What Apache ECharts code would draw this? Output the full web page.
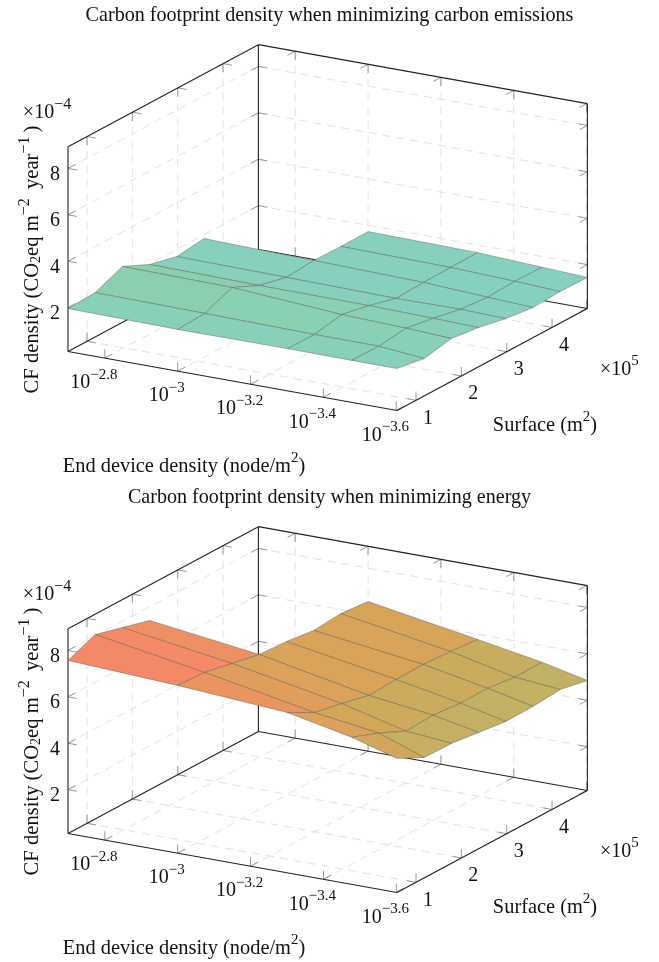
<!DOCTYPE html>
<html>
<head>
<meta charset="utf-8">
<style>
  html, body { margin: 0; padding: 0; background: #fff; }
  #main { width: 659px; height: 962px; }
</style>
<script src="https://cdn.jsdelivr.net/npm/echarts@6/dist/echarts.min.js"></script>
</head>
<body>
<div id="main"></div>
<script>
// data, z in units of 1e-4, null where the surface has no point
var densities = [0.002, 0.001, 0.0005, 0.000333, 0.00025];
var surfaces = [0.58, 1.18, 1.78, 2.38, 2.98, 3.58, 4.18, 4.78];
var carbonZ = [
  [1.96, 2.02, 2.52, 1.98, 1.69, 1.84, null, null],
  [1.91, 1.97, 2.46, 1.92, 1.64, 1.74, 1.72, 1.73],
  [1.93, 1.91, 2.14, 1.90, 1.58, 1.64, 1.66, 1.67],
  [1.92, 1.90, 2.05, 1.85, 1.61, 1.50, 1.56, 1.54],
  [1.92, 1.72, 1.96, 1.80, 1.56, 1.41, 1.47, 1.45]
];
var energyZ = [
  [7.57, 8.06, 7.73, 7.41, null, null, null, null],
  [7.34, 7.27, 7.03, 6.79, 6.72, 6.57, 6.67, 6.56],
  [7.02, 6.39, 6.15, 5.87, 5.93, 5.95, 5.88, 5.77],
  [6.45, 6.00, 5.46, 5.52, 5.41, 5.42, 5.27, 5.29],
  [5.89, 5.30, 5.28, 5.12, 4.97, 4.99, 5.09, 4.85]
];
var densityTicks = [-2.8, -3, -3.2, -3.4, -3.6];
var surfaceTicks = [1, 2, 3, 4];
var zTicks = [2, 4, 6, 8];
var titles = [
  "Carbon footprint density when minimizing carbon emissions",
  "Carbon footprint density when minimizing energy"
];
// colour map stops: z value and colour
var colorZ = [1.4, 1.9, 2.4, 4.9, 5.5, 6.0, 6.6, 7.0, 7.6];
var colorHex = ["#85d0c4", "#88d0ba", "#8dcfab", "#bdb266", "#c8ae60", "#d4a65a", "#dea05a", "#ea9560", "#f58868"];

var logMin = -2.699, logMax = -3.602;
var sMin = 0.58, sMax = 4.78;
var zMin = 0.11, zMax = 8.94;
var serif = "Liberation Serif";

function tOf(logD) { return (logMin - logD) / (logMin - logMax); }
function sOf(x) { return (x - sMin) / (sMax - sMin); }

// box projection, t and s are 0..1 along the two floor axes
function project(api, t, s, z) {
  return api.coord([
    68 + 329 * t + 190.4 * s,
    351.5 + 59 * t - 102 * s - 23.2 * (z - zMin)
  ]);
}

function colorOf(z) {
  if (z <= colorZ[0]) return colorHex[0];
  for (var k = 1; k < colorZ.length; k++) {
    if (z <= colorZ[k]) {
      return echarts.color.lerp((z - colorZ[k - 1]) / (colorZ[k] - colorZ[k - 1]), [colorHex[k - 1], colorHex[k]]);
    }
  }
  return colorHex[colorHex.length - 1];
}

function lineSeries(idx, segs, style, z2) {
  return {
    type: "custom",
    xAxisIndex: idx,
    yAxisIndex: idx,
    silent: true,
    clip: false,
    z: z2,
    data: segs,
    renderItem: function (params, api) {
      var seg = segs[params.dataIndex];
      var a = project(api, seg[0], seg[1], seg[2]);
      var b = project(api, seg[3], seg[4], seg[5]);
      return {
        type: "line",
        shape: { x1: a[0], y1: a[1], x2: b[0], y2: b[1] },
        style: style
      };
    }
  };
}

function gridSegs() {
  var segs = [];
  densityTicks.forEach(function (d) {
    var t = tOf(d);
    segs.push([t, 1, zMin, t, 1, zMax]);
    segs.push([t, 0, zMin, t, 1, zMin]);
  });
  surfaceTicks.forEach(function (x) {
    var s = sOf(x);
    segs.push([0, s, zMin, 0, s, zMax]);
    segs.push([0, s, zMin, 1, s, zMin]);
  });
  zTicks.forEach(function (z) {
    segs.push([0, 0, z, 0, 1, z]);
    segs.push([0, 1, z, 1, 1, z]);
  });
  return segs;
}

function tickSegs() {
  var dt = 0.027, ds = 0.04, dz = 0.38;
  var segs = [];
  function add(t, s, z, at, as, az) {
    segs.push([t, s, z, t + at * dt, s, z]);
    segs.push([t, s, z, t, s + as * ds, z]);
    segs.push([t, s, z, t, s, z + az * dz]);
  }
  densityTicks.forEach(function (d) {
    var t = tOf(d);
    add(t, 0, zMin, 0, 1, 1);
    add(t, 1, zMin, 0, -1, 1);
    add(t, 1, zMax, 0, -1, -1);
  });
  surfaceTicks.forEach(function (x) {
    var s = sOf(x);
    add(1, s, zMin, -1, 0, 1);
    add(0, s, zMin, 1, 0, 1);
    add(0, s, zMax, 1, 0, -1);
  });
  zTicks.forEach(function (z) {
    add(0, 0, z, 1, 1, 0);
    add(0, 1, z, 1, -1, 0);
    add(1, 1, z, -1, -1, 0);
  });
  return segs;
}

function edgeSegs() {
  return [
    [0, 0, zMax, 0, 1, zMax], [0, 1, zMax, 1, 1, zMax],
    [0, 0, zMin, 0, 0, zMax], [0, 1, zMin, 0, 1, zMax], [1, 1, zMin, 1, 1, zMax],
    [0, 0, zMin, 1, 0, zMin], [1, 0, zMin, 1, 1, zMin],
    [0, 0, zMin, 0, 1, zMin], [0, 1, zMin, 1, 1, zMin]
  ];
}

function surfaceSeries(idx, zs) {
  // back cells first so the nearer ones paint over them
  var cells = [];
  for (var i = 0; i < densities.length - 1; i++) {
    for (var j = surfaces.length - 2; j >= 0; j--) {
      if (zs[i][j] !== null && zs[i][j + 1] !== null && zs[i + 1][j] !== null && zs[i + 1][j + 1] !== null) {
        cells.push([i, j]);
      }
    }
  }
  return {
    type: "custom",
    xAxisIndex: idx,
    yAxisIndex: idx,
    silent: true,
    clip: false,
    z: 5,
    data: cells,
    renderItem: function (params, api) {
      var i = cells[params.dataIndex][0], j = cells[params.dataIndex][1];
      var corners = [[i, j], [i + 1, j], [i + 1, j + 1], [i, j + 1]];
      var sum = 0;
      var pts = corners.map(function (c) {
        sum += zs[c[0]][c[1]];
        return project(api, tOf(Math.log10(densities[c[0]])), sOf(surfaces[c[1]]), zs[c[0]][c[1]]);
      });
      return {
        type: "polygon",
        shape: { points: pts },
        style: { fill: colorOf(sum / 4), stroke: "rgba(95,95,85,0.45)", lineWidth: 1 }
      };
    }
  };
}

var richStyles = {
  b: { fontFamily: serif, fontSize: 20, fill: "#111", lineHeight: 26, verticalAlign: "bottom" },
  u: { fontFamily: serif, fontSize: 15, fill: "#111", lineHeight: 16, verticalAlign: "top" },
  v: { fontFamily: serif, fontSize: 16, fill: "#111", lineHeight: 16, verticalAlign: "top" },
  l: { fontFamily: serif, fontSize: 20.4, fill: "#111", lineHeight: 26, verticalAlign: "bottom" },
  y: { fontFamily: serif, fontSize: 20.6, fill: "#111", lineHeight: 26, verticalAlign: "bottom" },
  d: { fontFamily: serif, fontSize: 14, fill: "#111", lineHeight: 14, verticalAlign: "bottom" }
};

function labelSeries(idx) {
  var labels = [];
  // [projected anchor t, s, z, px offset x, px offset y, text, rotation]
  densityTicks.forEach(function (d) {
    labels.push([tOf(d), 0, zMin, -11, 22, "{b|10}{u|\u2212" + Math.abs(d) + "}", 0]);
  });
  surfaceTicks.forEach(function (x) {
    labels.push([1, sOf(x), zMin, 12, 15, "{b|" + x + "}", 0]);
  });
  zTicks.forEach(function (z) {
    labels.push([0, 0, z, -13, 3, "{b|" + z + "}", 0]);
  });
  labels.push([0, 0, zMax, -21, -37, "{b|\u00d710}{v|\u22124}", 0]);
  labels.push([1, 1, zMin, 32, 58, "{b|\u00d710}{u|5}", 0]);
  labels.push([1, 0, zMin, 148, 12, "{l|Surface (m}{u|2}{l|)}", 0]);
  labels.push([0, 0, zMin, 116, 112, "{l|End device density (node/m}{u|2}{l|)}", 0]);
  labels.push([0, 0, zMin, -38, -92, "{y|CF density (CO}{d|2}{y|eq m}{v|\u22122}{y|\u2009 year}{v|\u22121}{y|\u2009)}", Math.PI / 2]);
  return {
    type: "custom",
    xAxisIndex: idx,
    yAxisIndex: idx,
    silent: true,
    clip: false,
    z: 6,
    data: labels,
    renderItem: function (params, api) {
      var l = labels[params.dataIndex];
      var p = project(api, l[0], l[1], l[2]);
      return {
        type: "text",
        x: p[0] + l[3],
        y: p[1] + l[4],
        rotation: l[6],
        style: { text: l[5], rich: richStyles, align: "center", verticalAlign: "middle" }
      };
    }
  };
}

var series = [];
[carbonZ, energyZ].forEach(function (zs, idx) {
  series.push(lineSeries(idx, gridSegs(), { stroke: "#e2e2e2", lineWidth: 1, lineDash: [8, 6] }, 1));
  series.push(lineSeries(idx, tickSegs(), { stroke: "#999", lineWidth: 1 }, 2));
  series.push(lineSeries(idx, edgeSegs(), { stroke: "#222", lineWidth: 1.1 }, 3));
  series.push(surfaceSeries(idx, zs));
  series.push(labelSeries(idx));
});

function hiddenAxis(idx, max, inverse) {
  return { type: "value", gridIndex: idx, min: 0, max: max, inverse: inverse, show: false };
}

var myChart = echarts.init(document.getElementById("main"), null, { renderer: "canvas" });
myChart.setOption({
  animation: false,
  backgroundColor: "#fff",
  title: titles.map(function (t, i) {
    return {
      text: t,
      left: "center",
      top: i * 482 + 1,
      textStyle: { fontFamily: serif, fontSize: 20.1, fontWeight: "normal", color: "#111" }
    };
  }),
  grid: [
    { left: 0, top: 0, width: 659, height: 480 },
    { left: 0, top: 482, width: 659, height: 480 }
  ],
  xAxis: [hiddenAxis(0, 659, false), hiddenAxis(1, 659, false)],
  yAxis: [hiddenAxis(0, 480, true), hiddenAxis(1, 480, true)],
  series: series
});
</script>
</body>
</html>
